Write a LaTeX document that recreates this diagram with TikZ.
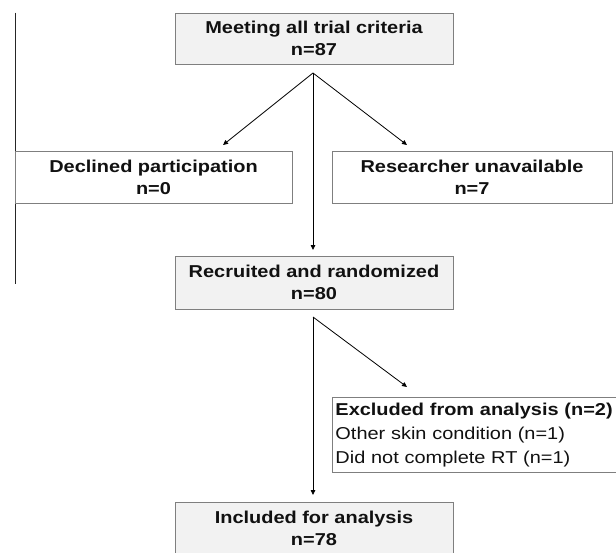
\documentclass[tikz,border=0pt]{standalone}
\usepackage{fontspec}
\setmainfont{Liberation Sans}[FakeStretch=1.16]
\usetikzlibrary{arrows.meta}
\definecolor{boxgray}{HTML}{7F7F7F}
\definecolor{boxfill}{HTML}{F2F2F2}
\definecolor{txt}{HTML}{111111}
\begin{document}
\begin{tikzpicture}[x=1pt,y=-1pt,
  box/.style={draw=boxgray, line width=0.9pt, fill=boxfill, minimum width=278pt,
    minimum height=51pt, align=center, inner sep=0pt, text=txt,
    font=\fontsize{17.2}{22}\selectfont\bfseries},
  wbox/.style={box, fill=white},
  exbox/.style={draw=boxgray, line width=0.9pt, fill=white, text width=280pt,
    minimum height=75pt, align=left, inner xsep=3pt, inner ysep=0pt, text=txt,
    font=\fontsize{17.2}{24}\selectfont, anchor=north west},
  arr/.style={draw=black, line width=0.8pt, -{Triangle[length=5pt,width=4.5pt]}}
]
\useasboundingbox (0,0) rectangle (616,552);
\clip (0,0) rectangle (616,552);

% left rule
\coordinate (r1) at (15.5,12.7);
\coordinate (r2) at (15.5,284);
\draw[line width=1.4pt, black!85] (r1) -- (r2);

\node[box] (top) at (314,38.5) {Meeting all trial criteria\\n=87};
\node[wbox, minimum width=277pt, minimum height=52pt] (decl) at (153.5,177) {Declined participation\\n=0};
\node[wbox, minimum width=280pt, minimum height=52pt] (res) at (472,177) {Researcher unavailable\\n=7};
\node[box, minimum height=53pt] (rec) at (314,282.5) {Recruited and randomized\\n=80};
\node[exbox] (exc) at (332,397) {\textbf{Excluded from analysis (n=2)}\\Other skin condition (n=1)\\Did not complete RT (n=1)};
\node[box, minimum height=53pt] (inc) at (314,528.5) {Included for analysis\\n=78};

% first fork
\coordinate (f1) at (313,73);
\coordinate (e1) at (223,145);
\coordinate (e2) at (407,145);
\coordinate (e3) at (313,250);
\draw[arr] (f1) -- (e1);
\draw[arr] (f1) -- (e2);
\draw[arr] (f1) -- (e3);

% second fork
\coordinate (f2) at (313,317);
\coordinate (e4) at (407,387);
\coordinate (e5) at (313,495);
\draw[arr] (f2) -- (e4);
\draw[arr] (f2) -- (e5);
\end{tikzpicture}
\end{document}
